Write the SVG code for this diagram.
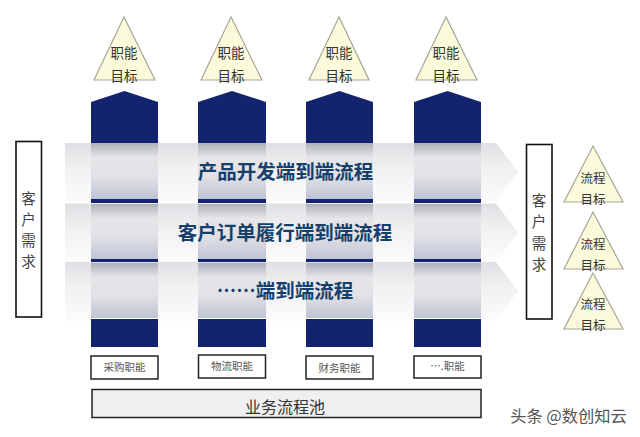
<svg xmlns="http://www.w3.org/2000/svg" width="640" height="437" viewBox="0 0 640 437">
<style>
text{font-family:"Noto Sans CJK SC","Noto Sans",sans-serif;text-anchor:middle;dominant-baseline:central}
.navy{fill:#14236e}
.tri{fill:#fbfbdc;stroke:#a8a898;stroke-width:1.2}
.t14{font-size:13.5px;fill:#333}
.t13{font-size:12.5px;fill:#333}
.side{fill:#fff;stroke:#111;stroke-width:1.6}
.v{font-size:14.5px;fill:#444}
.lab{fill:#fff;stroke:#222;stroke-width:1.5}
.l{font-size:10.5px;fill:#555}
.title{font-size:19.5px;font-weight:700;fill:#16406b}
</style>
<defs>
<linearGradient id="band" x1="0" y1="0" x2="0" y2="1">
<stop offset="0" stop-color="#e0e0e4"/><stop offset=".4" stop-color="#f0f0f2"/><stop offset="1" stop-color="#fcfcfd"/>
</linearGradient>
<linearGradient id="col" x1="0" y1="0" x2="0" y2="1">
<stop offset="0" stop-color="#aeb0b9"/><stop offset=".26" stop-color="#e6e6e9"/><stop offset=".58" stop-color="#e2e2e6"/><stop offset="1" stop-color="#bfc3d4"/>
</linearGradient>
<polygon id="arrow" points="65,0 496,0 518,29 496,59 65,59"/>
</defs>

<g id="bands">
<use href="#arrow" y="143" fill="url(#band)"/>
<use href="#arrow" y="203.500" fill="url(#band)"/>
<use href="#arrow" y="262" fill="url(#band)"/>
</g>

<g id="col-1">
<polygon class="navy" points="91,102 124.500,91 158,102 158,143 91,143"/>
<rect x="91" y="143" width="67" height="56" fill="url(#col)"/><rect class="navy" x="91" y="199" width="67" height="4"/>
<rect x="91" y="204" width="67" height="55" fill="url(#col)"/><rect class="navy" x="91" y="259" width="67" height="3"/>
<rect x="91" y="263" width="67" height="55" fill="url(#col)"/><rect class="navy" x="91" y="319" width="67" height="28"/>
</g>
<g id="col-2">
<polygon class="navy" points="198,102 232,91 266,102 266,143 198,143"/>
<rect x="198" y="143" width="68" height="56" fill="url(#col)"/><rect class="navy" x="198" y="199" width="68" height="4"/>
<rect x="198" y="204" width="68" height="55" fill="url(#col)"/><rect class="navy" x="198" y="259" width="68" height="3"/>
<rect x="198" y="263" width="68" height="55" fill="url(#col)"/><rect class="navy" x="198" y="319" width="68" height="28"/>
</g>
<g id="col-3">
<polygon class="navy" points="306,102 339.500,91 373,102 373,143 306,143"/>
<rect x="306" y="143" width="67" height="56" fill="url(#col)"/><rect class="navy" x="306" y="199" width="67" height="4"/>
<rect x="306" y="204" width="67" height="55" fill="url(#col)"/><rect class="navy" x="306" y="259" width="67" height="3"/>
<rect x="306" y="263" width="67" height="55" fill="url(#col)"/><rect class="navy" x="306" y="319" width="67" height="28"/>
</g>
<g id="col-4">
<polygon class="navy" points="414,102 447.500,91 481,102 481,143 414,143"/>
<rect x="414" y="143" width="67" height="56" fill="url(#col)"/><rect class="navy" x="414" y="199" width="67" height="4"/>
<rect x="414" y="204" width="67" height="55" fill="url(#col)"/><rect class="navy" x="414" y="259" width="67" height="3"/>
<rect x="414" y="263" width="67" height="55" fill="url(#col)"/><rect class="navy" x="414" y="319" width="67" height="28"/>
</g>

<g id="titles">
<text class="title" x="285.500" y="170">产品开发端到端流程</text>
<text class="title" x="285" y="231">客户订单履行端到端流程</text>
<text class="title" x="285" y="289">……端到端流程</text>
</g>

<g id="goal-1"><polygon class="tri" points="124,17 94,80 155,80"/><text class="t14" x="124" y="52">职能</text><text class="t14" x="124" y="75">目标</text></g>
<g id="goal-2"><polygon class="tri" points="231,17 201,80 262,80"/><text class="t14" x="231" y="52">职能</text><text class="t14" x="231" y="75">目标</text></g>
<g id="goal-3"><polygon class="tri" points="339,17 309,80 369,80"/><text class="t14" x="339" y="52">职能</text><text class="t14" x="339" y="75">目标</text></g>
<g id="goal-4"><polygon class="tri" points="446,17 416,80 477,80"/><text class="t14" x="446" y="52">职能</text><text class="t14" x="446" y="75">目标</text></g>

<g id="proc-1"><polygon class="tri" points="593,146 564,202 623,202"/><text class="t13" x="593" y="177">流程</text><text class="t13" x="593" y="198">目标</text></g>
<g id="proc-2"><polygon class="tri" points="593,212 564,269 623,269"/><text class="t13" x="593" y="243">流程</text><text class="t13" x="593" y="264">目标</text></g>
<g id="proc-3"><polygon class="tri" points="593,273 564,329 623,329"/><text class="t13" x="593" y="303">流程</text><text class="t13" x="593" y="324">目标</text></g>

<g id="cust-in"><rect class="side" x="16" y="141.500" width="25.500" height="175.500"/>
<text class="v" x="28.500" y="197">客</text><text class="v" x="28.500" y="218">户</text><text class="v" x="28.500" y="239">需</text><text class="v" x="28.500" y="260">求</text></g>
<g id="cust-out"><rect class="side" x="526.500" y="144.500" width="25.500" height="174.500"/>
<text class="v" x="539" y="199">客</text><text class="v" x="539" y="220.500">户</text><text class="v" x="539" y="242">需</text><text class="v" x="539" y="263.500">求</text></g>

<g id="lab-1"><rect class="lab" x="91" y="356" width="67" height="23"/><text class="l" x="124.500" y="366.500">采购职能</text></g>
<g id="lab-2"><rect class="lab" x="198.500" y="355" width="67" height="23"/><text class="l" x="232" y="365.500">物流职能</text></g>
<g id="lab-3"><rect class="lab" x="306" y="356" width="67" height="23"/><text class="l" x="339.500" y="367">财务职能</text></g>
<g id="lab-4"><rect class="lab" x="414" y="356" width="67" height="22"/><text class="l" x="447.500" y="365.500">….职能</text></g>

<g id="pool"><rect x="92" y="389.500" width="389" height="28" fill="#efeff1" stroke="#222" stroke-width="1.500"/><text x="285" y="405.500" font-size="16" fill="#333">业务流程池</text></g>
<text id="mark" x="568.500" y="415" font-size="16.300" fill="#555">头条 @数创知云</text>
</svg>
